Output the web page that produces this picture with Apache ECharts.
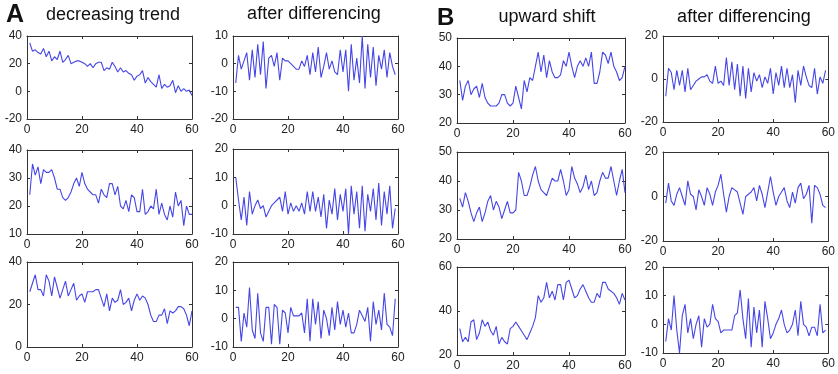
<!DOCTYPE html>
<html><head><meta charset="utf-8">
<script src="https://cdn.jsdelivr.net/npm/echarts@6/dist/echarts.min.js"></script>
<style>html,body{margin:0;padding:0;background:#fff}#c{width:838px;height:374px}</style>
</head><body><div id="c"></div>
<script>
// ---- data (x runs 1..n) ----
const xTickLabels = [0, 20, 40, 60];
const trendA1 = [35,29,30,28,27,31,25,29,22,25,23,29,21,23,26,20,21,22,22,21,20,18,20,17,20,21,21,15,17,16,21,18,14,17,14,15,13,12,8,11,12,15,6,10,7,5,3,12,2,5,3,4,8,-1,4,0,2,0,1,-3];
const diffA1 = [-7,3,-2,1,4,-6,5,-5,7,-4,8,-9,2,3,-1,4,-6,2,1,1,0,-1,-2,-2,1,-1,3,-4,4,-3,6,-5,-1,4,-2,1,-3,-4,5,-3,5,-10,7,-6,2,-7,10,-9,7,-5,6,-8,3,-2,5,-5,4,-1,-4];
const trendA2 = [24,35,31,34,28,33,32,32,33,30,26,26,23,22,23,25,28,30,27,32,28,26,25,24,24,21,26,24,23,28,28,24,27,20,19,22,18,24,23,18,18,26,17,18,20,19,26,17,21,17,15,20,16,25,20,22,13,20,17,17];
const diffA2 = [10,2,-5,3,-7,5,-3,0,2,-1,0,-4,-2,0,1,2,3,-2,5,-3,1,-2,0,-2,1,-3,5,-2,5,-2,3,-4,4,-8,2,-3,6,-5,4,-2,6,-10,7,-3,5,-8,7,-9,4,-2,6,-5,8,-7,5,-3,7,-8,-1];
const trendA3 = [26,30,34,27,27,24,34,31,24,33,28,23,27,31,24,27,30,22,24,25,21,26,26,26,27,27,23,19,25,17,23,21,22,27,20,21,23,17,22,25,22,24,23,20,15,12,12,15,15,18,11,17,16,17,19,19,18,15,10,17];
const diffA3 = [4,4,-8,2,-3,11,-4,-7,9,-5,-8,4,4,-9,5,4,-9,3,2,-5,4,1,1,1,2,-5,7,-8,7,-2,6,-7,3,0,-6,4,-4,6,-2,3,-3,2,-5,-5,-2,3,1,-1,4,-8,6,-2,3,-4,9,-2,-3,-6,7];
const shiftB1 = [35,28,33,35,30,32,33,29,34,29,27,26,26,26,27,30,30,27,26,27,33,29,25,35,31,36,35,40,45,38,44,36,42,38,36,36,37,42,40,45,40,36,40,42,40,43,40,45,34,34,38,45,44,41,45,40,38,35,36,40];
const diffB1 = [-8,5,3,-5,4,-3,4,-6,5,-5,-3,-1,0,1,1,2,-1,-2,6,-2,-1,-3,10,-3,8,-5,7,-8,6,-9,5,-6,3,-1,2,-4,1,-2,5,-7,3,-3,6,-4,5,-4,2,-11,4,-3,6,1,-3,-4,5,-7,1,-2,4];
const shiftB2 = [34,31,36,33,29,26,29,31,26,29,33,35,30,33,31,27,30,33,29,29,30,43,40,35,35,38,42,45,40,37,36,35,38,41,40,40,44,40,35,37,45,41,39,36,38,42,37,40,35,36,40,43,41,41,45,40,35,40,44,36];
const diffB2 = [-3,6,-2,-4,1,4,0,-4,7,1,0,-6,3,0,-4,4,1,-4,2,5,10,1,-7,0,4,3,2,-3,-8,0,1,2,4,-2,5,1,-5,2,9,2,-4,0,2,4,-2,-5,2,-3,4,6,-1,1,5,-12,5,4,1,-4,-5];
const shiftB3 = [32,26,28,26,35,36,27,30,36,33,35,31,29,33,25,28,26,25,32,33,35,33,31,29,27,30,33,37,47,44,46,53,46,49,45,52,52,45,53,54,50,46,47,50,52,49,46,44,44,48,46,53,53,50,49,48,46,43,48,45];
const diffB3 = [-6,2,-2,10,-2,-10,3,7,-3,2,-5,0,3,-8,2,-1,0,7,2,1,-3,-2,-2,-2,-2,3,4,12,2,-5,9,-8,6,-3,5,-8,8,2,-5,-3,0,2,5,0,-3,-2,0,5,-4,8,0,-1,-4,-1,-1,-4,7,-3,-2];

// ---- panel layout ----
const panelData = [trendA1, diffA1, shiftB1, diffB1, trendA2, diffA2, shiftB2, diffB2, trendA3, diffA3, shiftB3, diffB3];
const yMins  = [-20,-20,20,-20, 10,-10,20,-20, 0,-10,20,-10];
const yMaxs  = [ 40, 10,50, 20, 40, 20,50, 20, 40, 20,60, 20];
const ySteps = [ 20, 10,10, 20, 10, 10,10, 20, 20, 10,20, 10];
const colLeft = [27, 233, 457, 663];
const colWidth = [165, 165, 168, 170];
const rowTop = [[36,150,262],[36,149,262],[38,152,267],[36,152,267]];
const rowHeight = [[83,84,85],[83,85,85],[85,87,88],[86,89,86]];

const FONT = 'Liberation Sans, Arial, sans-serif';
const LINE = '#4646e6';
const AX = '#333';

const grid = [], xAxis = [], yAxis = [], series = [];
panelData.forEach((d, i) => {
  const r = Math.floor(i / 4), c = i % 4;
  grid.push({left: colLeft[c], top: rowTop[c][r], width: colWidth[c], height: rowHeight[c][r], containLabel: false});
  const common = {min: 0, max: 60, interval: 20, gridIndex: i, splitLine: {show: false},
    axisLine: {show: true, onZero: false, lineStyle: {color: AX, width: 1}},
    axisTick: {show: true, inside: true, length: 3, lineStyle: {color: AX}}};
  xAxis.push(Object.assign({type: 'value', position: 'bottom',
    axisLabel: {show: true, color: '#222', fontSize: 12, fontFamily: FONT, margin: 5,
      formatter: v => xTickLabels.includes(v) ? String(v) : ''}}, common));
  xAxis.push(Object.assign({type: 'value', position: 'top', axisLabel: {show: false}}, common));
  const yc = {min: yMins[i], max: yMaxs[i], interval: ySteps[i], gridIndex: i, splitLine: {show: false},
    axisLine: {show: true, onZero: false, lineStyle: {color: AX, width: 1}},
    axisTick: {show: true, inside: true, length: 3, lineStyle: {color: AX}}};
  yAxis.push(Object.assign({type: 'value', position: 'left',
    axisLabel: {show: true, color: '#222', fontSize: 12, fontFamily: FONT, margin: 5}}, yc));
  yAxis.push(Object.assign({type: 'value', position: 'right', axisLabel: {show: false}}, yc));
  series.push({type: 'line', xAxisIndex: 2 * i, yAxisIndex: 2 * i,
    data: d.map((v, k) => [k + 1, v]), showSymbol: false, symbol: 'none',
    lineStyle: {color: LINE, width: 1.1}, silent: true});
});

const graphic = [
  {type: 'text', left: 6, top: 3, style: {text: 'A', font: 'bold 25px ' + FONT, fill: '#111'}},
  {type: 'text', left: 437, top: 6, style: {text: 'B', font: 'bold 24px ' + FONT, fill: '#111'}},
  {type: 'text', x: 113, y: 6, style: {text: 'decreasing trend', font: '18px ' + FONT, fill: '#111', textAlign: 'center', textVerticalAlign: 'top'}},
  {type: 'text', x: 314, y: 5, style: {text: 'after differencing', font: '18px ' + FONT, fill: '#111', textAlign: 'center', textVerticalAlign: 'top'}},
  {type: 'text', x: 547, y: 8, style: {text: 'upward shift', font: '18px ' + FONT, fill: '#111', textAlign: 'center', textVerticalAlign: 'top'}},
  {type: 'text', x: 744, y: 8, style: {text: 'after differencing', font: '18px ' + FONT, fill: '#111', textAlign: 'center', textVerticalAlign: 'top'}}
];

const chart = echarts.init(document.getElementById('c'), null, {renderer: 'canvas'});
chart.setOption({animation: false, backgroundColor: '#fff', grid, xAxis, yAxis, series, graphic});
</script>
</body></html>
